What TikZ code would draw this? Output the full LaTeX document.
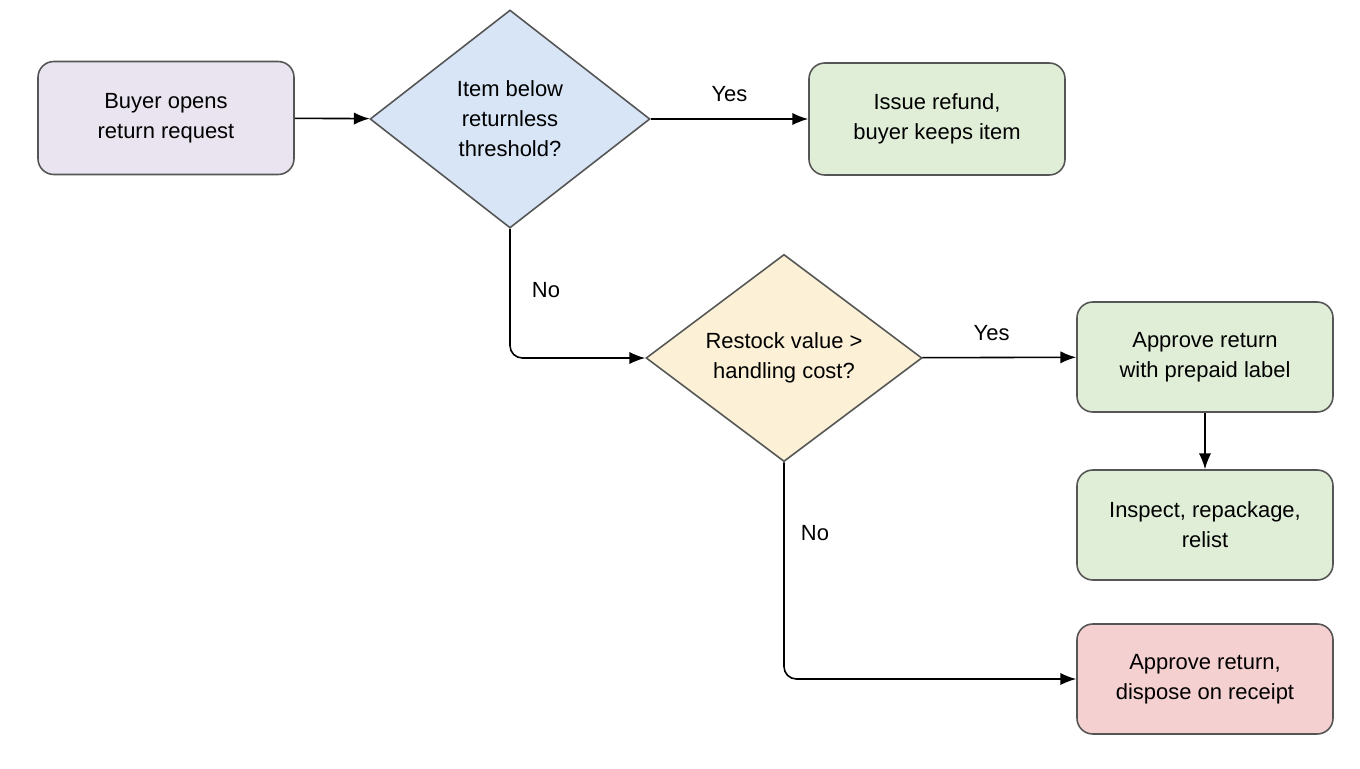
\documentclass[tikz,border=0pt]{standalone}
\usepackage{fontspec}
\setmainfont{Liberation Sans}
\usepackage{xcolor}
\definecolor{startfill}{HTML}{EAE4F1}
\definecolor{bluefill}{HTML}{D7E5F6}
\definecolor{yellowfill}{HTML}{FCF1D6}
\definecolor{greenfill}{HTML}{E0EED8}
\definecolor{redfill}{HTML}{F5D0D0}
\definecolor{edgegray}{HTML}{555555}
\usetikzlibrary{arrows.meta, positioning, shapes, calc}

\begin{document}
\begin{tikzpicture}[x=0.02cm, y=-0.02cm,
  box/.style={rectangle, rounded corners=9pt, draw=edgegray, line width=0.9pt,
    minimum width=256*0.02cm, minimum height=110*0.02cm, align=center,
    font=\fontsize{12.5}{17}\selectfont},
  choice/.style={diamond, draw=edgegray, line width=0.9pt, inner sep=0pt,
    align=center, font=\fontsize{12.5}{17}\selectfont},
  flow/.style={-{Latex[length=9pt,width=7pt]}, line width=0.9pt, rounded corners=7pt},
  lbl/.style={font=\fontsize{12.5}{15}\selectfont}]
  % Canvas
  \useasboundingbox (0,0) rectangle (1360,768);

  % Steps
  \node[box, fill=startfill, minimum height=113*0.02cm] (open) at (166,118) {Buyer opens\\return request};
  \node[choice, fill=bluefill, minimum width=280*0.02cm, minimum height=218*0.02cm] (cheap) at (510,119) {Item below\\returnless\\threshold?};
  \node[box, fill=greenfill, minimum height=112*0.02cm] (refund) at (937,119) {Issue refund,\\buyer keeps item};
  \node[choice, fill=yellowfill, minimum width=276*0.02cm, minimum height=205*0.02cm] (worth) at (784,358) {Restock value >\\handling cost?};
  \node[box, fill=greenfill] (approve) at (1205,357) {Approve return\\with prepaid label};
  \node[box, fill=greenfill] (inspect) at (1205,525) {Inspect, repackage,\\relist};
  \node[box, fill=redfill] (dispose) at (1205,679) {Approve return,\\dispose on receipt};

  % Connectors
  \draw[flow] (open) -- (cheap);
  \draw[flow] (cheap) -- node[lbl, above=6pt] {Yes} (refund);
  \draw[flow] (cheap.south) |- (worth.west);
  \node[lbl] (no1) at (546,290) {No};
  \draw[flow] (worth) -- node[lbl, above=6pt, pos=0.45] {Yes} (approve);
  \draw[flow] (approve) -- (inspect);
  \draw[flow] (worth.south) |- (dispose.west);
  \node[lbl] (no2) at (815,533) {No};
\end{tikzpicture}
\end{document}
